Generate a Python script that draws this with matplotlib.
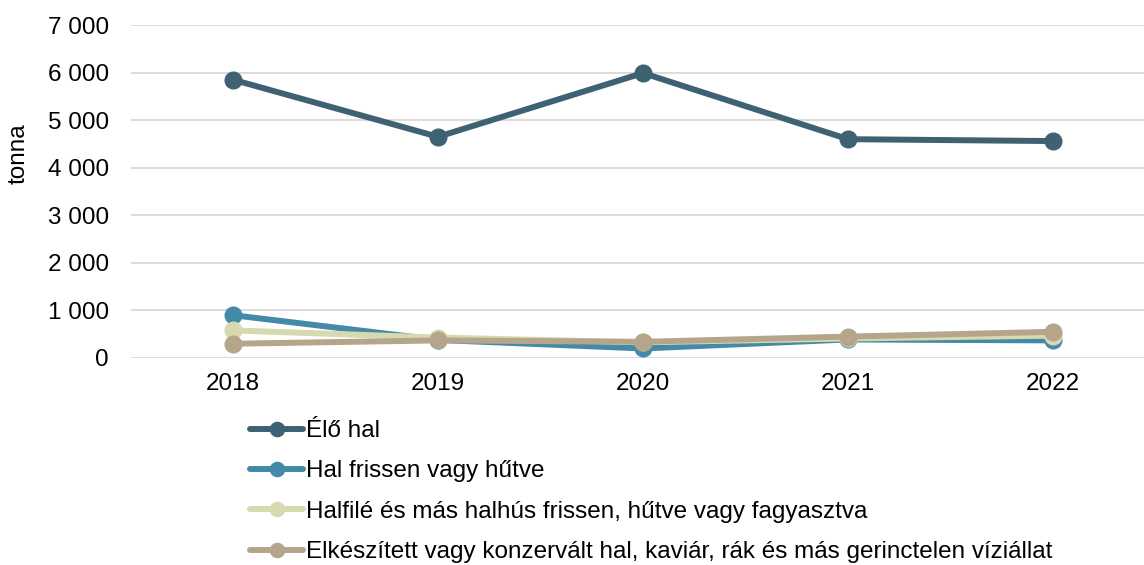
import matplotlib
matplotlib.use("Agg")
import matplotlib.pyplot as plt
from matplotlib.ticker import FuncFormatter, MultipleLocator

plt.rcParams['font.family'] = ['Liberation Sans', 'DejaVu Sans']

years = ["2018", "2019", "2020", "2021", "2022"]
elo_hal = [5850, 4650, 5990, 4600, 4560]
hal_frissen = [900, 380, 200, 390, 370]
halfile = [580, 430, 330, 410, 470]
elkeszitett = [300, 370, 340, 450, 550]

series = [
    ("Élő hal", elo_hal, "#3e6272"),
    ("Hal frissen vagy hűtve", hal_frissen, "#448aa8"),
    ("Halfilé és más halhús frissen, hűtve vagy fagyasztva", halfile, "#d7d9b0"),
    ("Elkészített vagy konzervált hal, kaviár, rák és más gerinctelen víziállat", elkeszitett, "#b5a68b"),
]

FS = 17.5

fig = plt.figure(figsize=(11.44, 5.65), dpi=100)
ax = fig.add_axes([130.5 / 1144, 207 / 565, 1025 / 1144, 333 / 565])

x = list(range(len(years)))
for label, vals, color in series:
    ax.plot(x, vals, color=color, lw=4.3, marker='o', markersize=12,
            label=label, solid_capstyle='round', clip_on=False)

ax.set_xlim(-0.5, len(years) - 0.5)
ax.set_ylim(0, 7000)
ax.yaxis.set_major_locator(MultipleLocator(1000))
ax.yaxis.set_major_formatter(FuncFormatter(lambda v, p: f"{int(v):,}".replace(",", " ")))
ax.set_xticks(x)
ax.set_xticklabels(years)
ax.grid(axis='y', color='#d9d9d9', lw=1.3)
ax.set_axisbelow(True)
for s in ax.spines.values():
    s.set_visible(False)
ax.tick_params(axis='both', length=0, labelsize=FS, colors='black')
ax.tick_params(axis='y', pad=15.5)
ax.tick_params(axis='x', pad=11)
ax.set_ylabel("tonna", fontsize=FS)
ax.yaxis.set_label_coords(-0.098, 0.613)

handles, labels = ax.get_legend_handles_labels()
leg = fig.legend(handles, labels, loc='upper left', bbox_to_anchor=(250 / 1144, 1 - 420 / 565),
                 frameon=False, fontsize=FS, handlelength=2.2, handletextpad=0.12,
                 labelspacing=0.76, markerscale=0.85, borderaxespad=0, borderpad=0)

fig.savefig("out.png", dpi=100)
